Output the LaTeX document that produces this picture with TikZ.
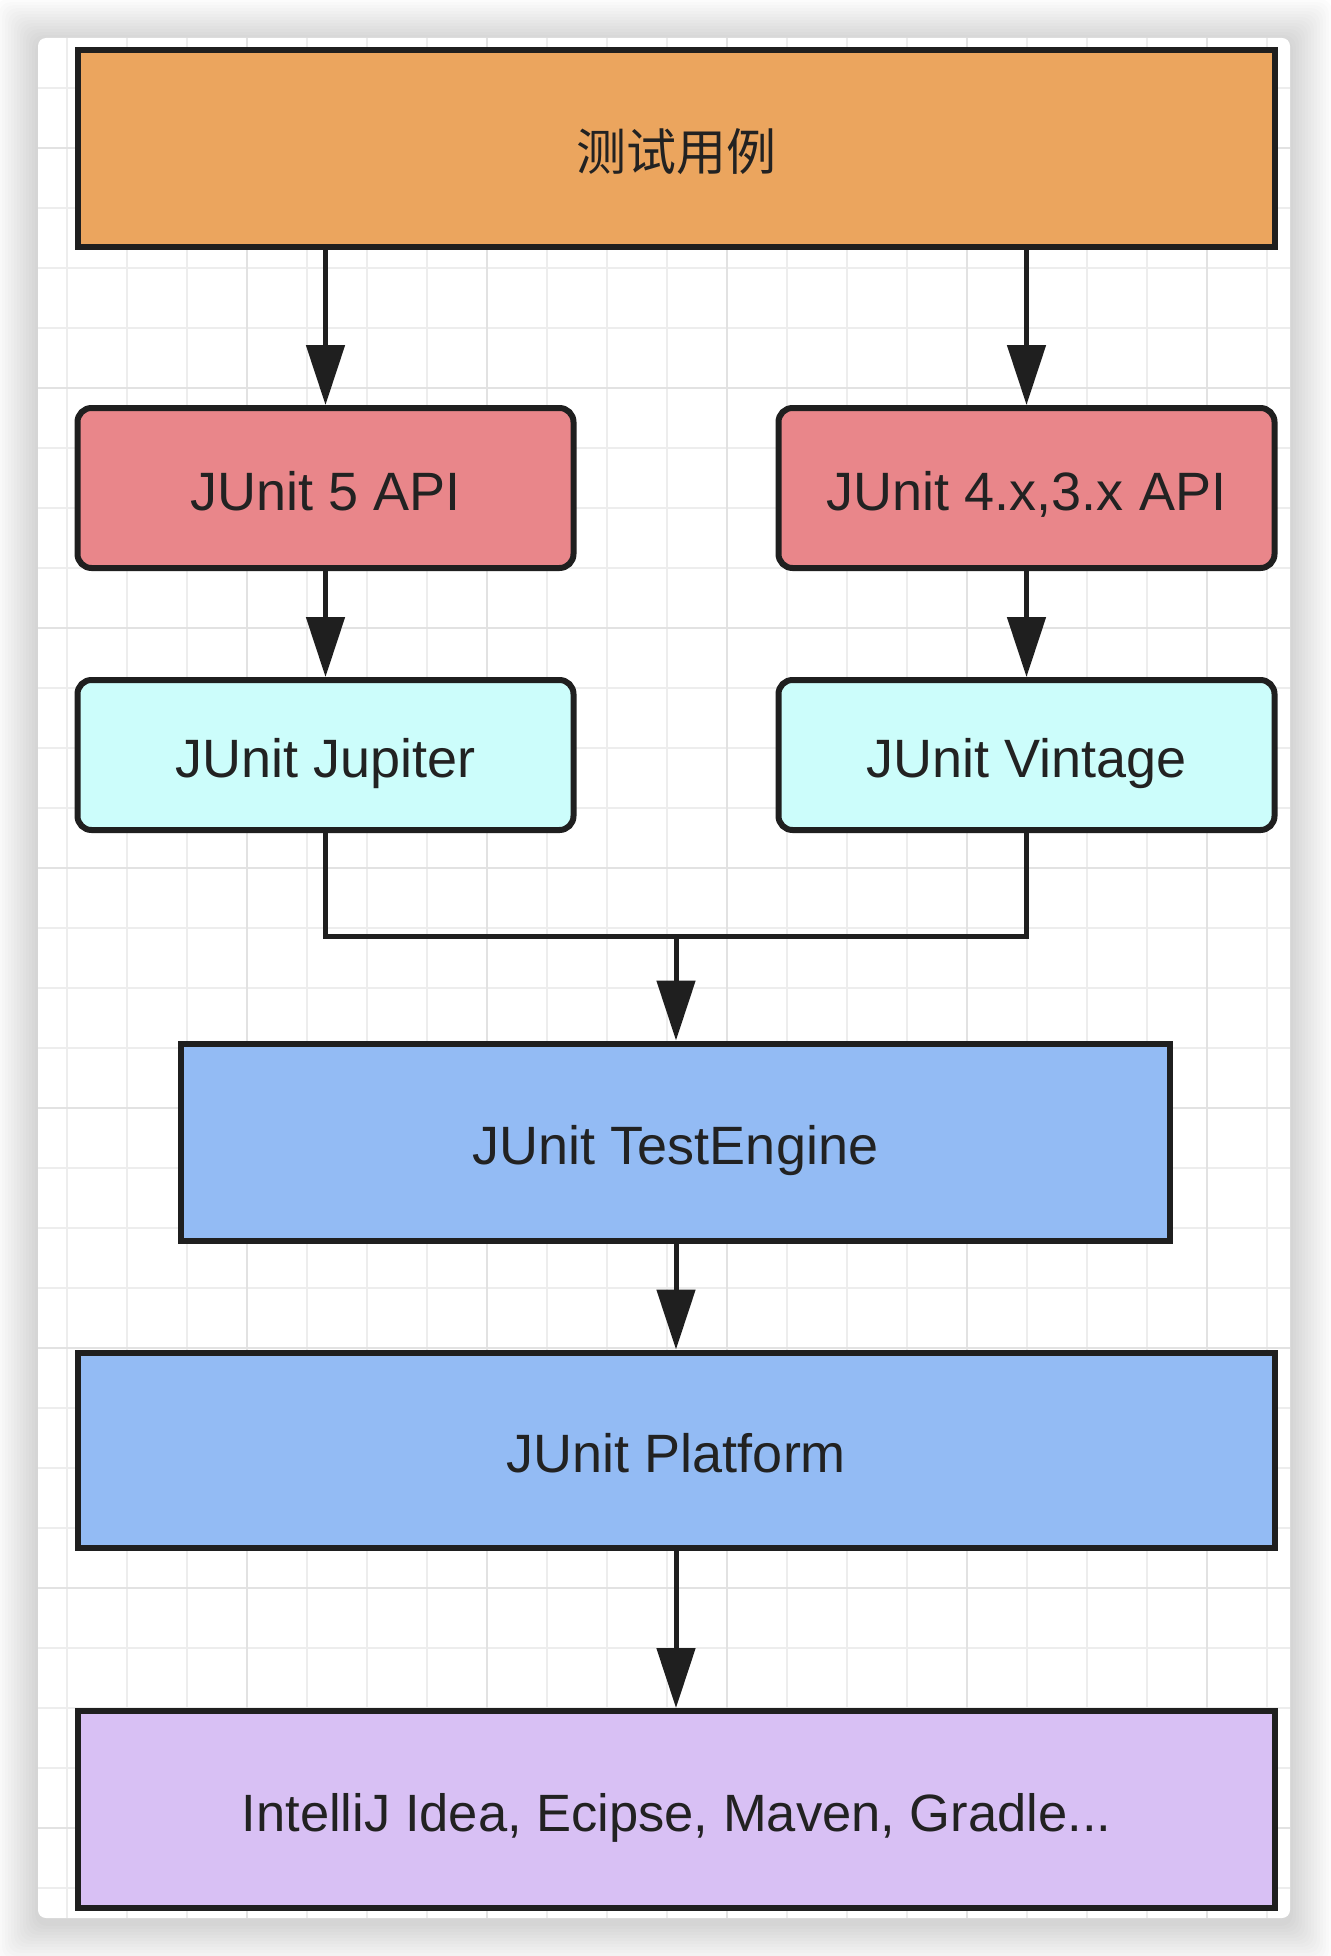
\documentclass[tikz,border=0pt]{standalone}
\usepackage{fontspec}
\setmainfont{Liberation Sans}
\newfontfamily\cjk{Noto Sans CJK SC}
\usetikzlibrary{arrows.meta}
\definecolor{boxline}{HTML}{1F1F1F}
\definecolor{txt}{HTML}{222222}
\definecolor{caseorange}{HTML}{EBA55E}
\definecolor{apired}{HTML}{E9868A}
\definecolor{engcyan}{HTML}{CCFDFB}
\definecolor{platblue}{HTML}{93BBF4}
\definecolor{idepurple}{HTML}{D8C0F4}
\definecolor{gridminor}{HTML}{EDEDED}
\definecolor{gridmajor}{HTML}{E2E2E2}
\tikzset{
    box/.style={draw=boxline,line width=6pt,text=txt,inner sep=0pt,
        text height=44pt,text depth=0pt,font=\fontsize{54}{64}\selectfont},
    widebox/.style={box,minimum width=1197pt,minimum height=197pt},
    roundbox/.style={box,rounded corners=14pt,minimum width=496pt},
    link/.style={draw=boxline,line width=5pt}
}
\begin{document}
\begin{tikzpicture}[x=1pt,y=-1pt,>={Triangle[length=60pt,width=38pt]}]
    \useasboundingbox (0,0) rectangle (1330,1956);
    \fill[white] (0,0) rectangle (1330,1956);
    \foreach \s in {1,...,14}
        \fill[black,opacity=0.012,rounded corners=12pt]
            (38-3*\s,38-3*\s+3) rectangle (1290+3*\s,1918+3*\s+5);
    \fill[white,rounded corners=8pt] (38,38) rectangle (1290,1918);
    \begin{scope}
        \clip[rounded corners=8pt] (38,38) rectangle (1290,1918);
        \foreach \gx in {67,127,...,1267}
            \draw[gridminor,line width=1.5pt] (\gx,38) -- (\gx,1918);
        \foreach \gy in {88,148,...,1888}
            \draw[gridminor,line width=1.5pt] (38,\gy) -- (1290,\gy);
        \foreach \gx in {247,487,...,1207}
            \draw[gridmajor,line width=2pt] (\gx,38) -- (\gx,1918);
        \foreach \gy in {148,388,...,1828}
            \draw[gridmajor,line width=2pt] (38,\gy) -- (1290,\gy);
    \end{scope}

    \node[widebox,fill=caseorange] (case) at (676.5,148.5)
    {
        \cjk\fontsize{50}{60}\selectfont 测试用例
    };
    \node[roundbox,fill=apired,minimum height=160pt] (api5) at (325.5,488) {JUnit 5 API};
    \node[roundbox,fill=apired,minimum height=160pt] (api4) at (1026.5,488) {JUnit 4.x,3.x API};
    \node[roundbox,fill=engcyan,minimum height=150pt] (jup) at (325.5,755) {JUnit Jupiter};
    \node[roundbox,fill=engcyan,minimum height=150pt] (vin) at (1026.5,755) {JUnit Vintage};
    \node[box,fill=platblue,minimum width=989pt,minimum height=197pt] (eng) at (675.5,1142) {JUnit TestEngine};
    \node[widebox,fill=platblue,minimum height=195pt] (plat) at (676.5,1450) {JUnit Platform};
    \node[widebox,fill=idepurple,font=\fontsize{52.5}{62}\selectfont] (ide) at (676.5,1809.5) {IntelliJ Idea, Ecipse, Maven, Gradle...};
    \coordinate (mid) at (676,936);

    \draw[link,->] (case.south -| api5.north) -- (api5.north);
    \draw[link,->] (case.south -| api4.north) -- (api4.north);
    \draw[link,->] (api5.south) -- (jup.north);
    \draw[link,->] (api4.south) -- (vin.north);
    \draw[link] (jup.south) |- (mid) -| (vin.south);
    \draw[link,->] (mid) -- (mid |- eng.north);
    \draw[link,->] (mid |- eng.south) -- (mid |- plat.north);
    \draw[link,->] (mid |- plat.south) -- (mid |- ide.north);
\end{tikzpicture}
\end{document}
